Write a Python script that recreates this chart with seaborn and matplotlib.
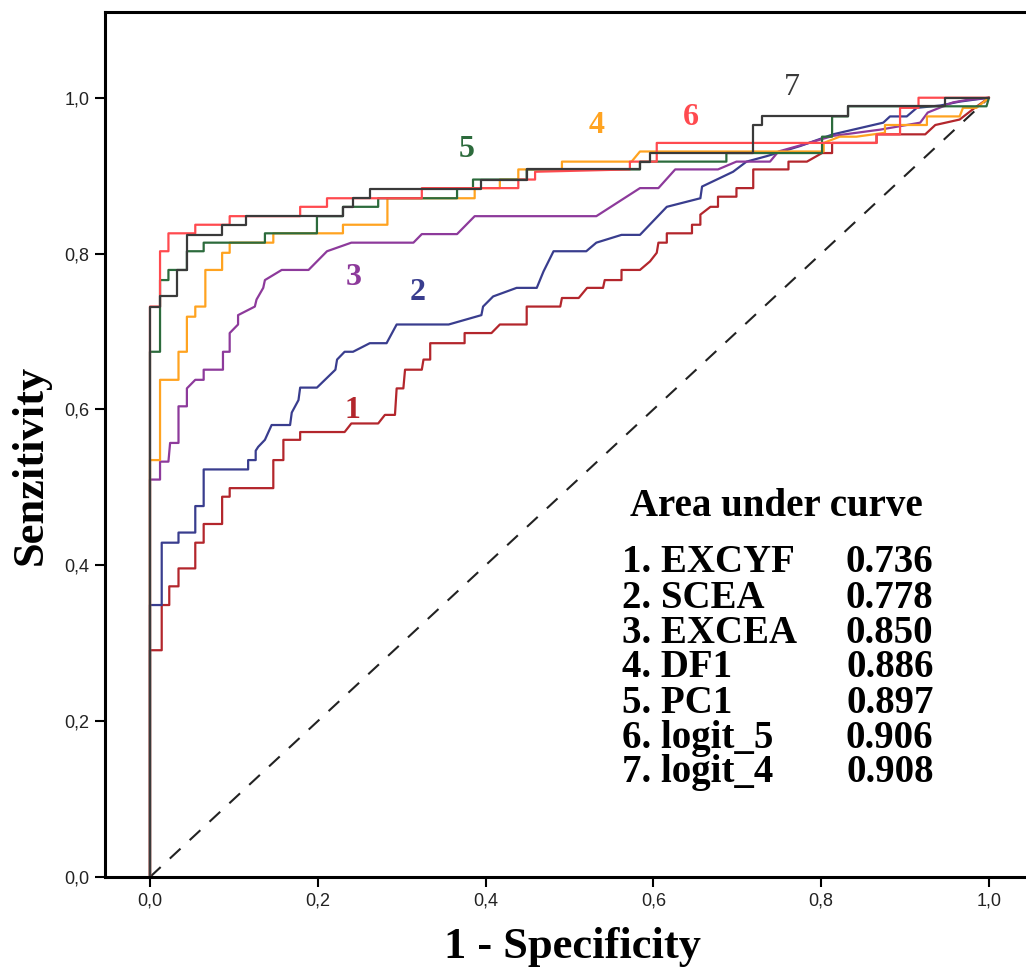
# -*- coding: utf-8 -*-
import numpy as np
import pandas as pd
import matplotlib
matplotlib.use("Agg")
import matplotlib.pyplot as plt
import seaborn as sns

# ROC vertices (1 - specificity, sensitivity)
roc_excyf = [(0, 0), (0, 0.291), (0.014, 0.291), (0.014, 0.349), (0.023, 0.349), (0.023, 0.373),
             (0.034, 0.373), (0.034, 0.396), (0.054, 0.396), (0.054, 0.429), (0.064, 0.429),
             (0.064, 0.453), (0.086, 0.453), (0.086, 0.488), (0.095, 0.488), (0.095, 0.499),
             (0.147, 0.499), (0.147, 0.535), (0.159, 0.535), (0.159, 0.561), (0.179, 0.561),
             (0.179, 0.571), (0.232, 0.571), (0.240, 0.582), (0.272, 0.582), (0.280, 0.593),
             (0.292, 0.593), (0.294, 0.627), (0.302, 0.627), (0.304, 0.651), (0.324, 0.651),
             (0.326, 0.664), (0.334, 0.664), (0.334, 0.685), (0.375, 0.685), (0.375, 0.698),
             (0.407, 0.698), (0.417, 0.709), (0.449, 0.709), (0.449, 0.732), (0.489, 0.732),
             (0.491, 0.743), (0.511, 0.743), (0.521, 0.756), (0.540, 0.756), (0.542, 0.766),
             (0.562, 0.766), (0.562, 0.779), (0.584, 0.779), (0.596, 0.790), (0.604, 0.801),
             (0.606, 0.814), (0.616, 0.814), (0.616, 0.826), (0.646, 0.826), (0.646, 0.837),
             (0.656, 0.837), (0.656, 0.850), (0.668, 0.860), (0.677, 0.860), (0.677, 0.873),
             (0.699, 0.873), (0.699, 0.884), (0.719, 0.884), (0.719, 0.908), (0.761, 0.908),
             (0.761, 0.918), (0.783, 0.918), (0.801, 0.929), (0.813, 0.929), (0.813, 0.942),
             (0.866, 0.942), (0.866, 0.953), (0.924, 0.953), (0.936, 0.965), (0.965, 0.972),
             (0.983, 0.987), (1, 1)]
roc_scea = [(0, 0), (0, 0.349), (0.014, 0.349), (0.014, 0.429), (0.034, 0.429), (0.034, 0.442),
            (0.054, 0.442), (0.054, 0.476), (0.064, 0.476), (0.064, 0.523), (0.117, 0.523),
            (0.117, 0.535), (0.126, 0.535), (0.126, 0.547), (0.129, 0.552), (0.137, 0.561),
            (0.145, 0.580), (0.167, 0.580), (0.169, 0.596), (0.177, 0.612), (0.179, 0.628),
            (0.199, 0.628), (0.221, 0.651), (0.223, 0.664), (0.232, 0.674), (0.242, 0.674),
            (0.262, 0.685), (0.282, 0.685), (0.294, 0.709), (0.356, 0.709), (0.395, 0.721),
            (0.397, 0.732), (0.409, 0.745), (0.437, 0.756), (0.461, 0.756), (0.469, 0.777),
            (0.481, 0.803), (0.520, 0.803), (0.532, 0.814), (0.562, 0.824), (0.584, 0.824),
            (0.616, 0.860), (0.656, 0.871), (0.658, 0.886), (0.695, 0.905), (0.711, 0.918),
            (0.735, 0.925), (0.775, 0.938), (0.814, 0.953), (0.874, 0.968), (0.882, 0.976),
            (0.902, 0.976), (0.914, 0.987), (0.942, 0.990), (0.965, 0.995), (1, 1)]
roc_excea = [(0, 0), (0, 0.510), (0.012, 0.510), (0.012, 0.533), (0.022, 0.533), (0.024, 0.557),
             (0.034, 0.557), (0.034, 0.604), (0.044, 0.604), (0.044, 0.627), (0.054, 0.638),
             (0.064, 0.638), (0.064, 0.651), (0.087, 0.651), (0.087, 0.674), (0.095, 0.674),
             (0.095, 0.698), (0.105, 0.709), (0.105, 0.721), (0.125, 0.732), (0.127, 0.741),
             (0.135, 0.756), (0.137, 0.766), (0.157, 0.779), (0.189, 0.779), (0.211, 0.803),
             (0.240, 0.814), (0.314, 0.814), (0.324, 0.825), (0.366, 0.825), (0.387, 0.848),
             (0.532, 0.848), (0.584, 0.884), (0.606, 0.884), (0.626, 0.908), (0.677, 0.908),
             (0.699, 0.918), (0.739, 0.918), (0.749, 0.931), (0.779, 0.940), (0.814, 0.951),
             (0.870, 0.959), (0.918, 0.968), (0.927, 0.981), (0.957, 0.994), (0.973, 0.997), (1, 1)]
roc_df1 = [(0, 0), (0, 0.535), (0.012, 0.535), (0.012, 0.638), (0.034, 0.638), (0.034, 0.674),
           (0.044, 0.674), (0.044, 0.719), (0.054, 0.719), (0.054, 0.732), (0.066, 0.732),
           (0.066, 0.779), (0.086, 0.779), (0.086, 0.801), (0.095, 0.801), (0.095, 0.814),
           (0.147, 0.814), (0.147, 0.826), (0.230, 0.826), (0.230, 0.837), (0.283, 0.837),
           (0.283, 0.871), (0.387, 0.871), (0.387, 0.884), (0.417, 0.884), (0.417, 0.895),
           (0.439, 0.895), (0.439, 0.908), (0.491, 0.908), (0.491, 0.918), (0.574, 0.918),
           (0.584, 0.931), (0.803, 0.931), (0.803, 0.942), (0.822, 0.950), (0.842, 0.950),
           (0.876, 0.955), (0.876, 0.965), (0.926, 0.965), (0.926, 0.976), (0.965, 0.976),
           (0.969, 0.987), (0.985, 0.987), (1, 1)]
roc_pc1 = [(0, 0), (0, 0.674), (0.012, 0.674), (0.012, 0.766), (0.022, 0.766), (0.022, 0.779),
           (0.044, 0.779), (0.044, 0.803), (0.064, 0.803), (0.064, 0.814), (0.137, 0.814),
           (0.137, 0.826), (0.199, 0.826), (0.199, 0.848), (0.230, 0.848), (0.230, 0.860),
           (0.272, 0.860), (0.272, 0.871), (0.366, 0.871), (0.366, 0.884), (0.385, 0.884),
           (0.385, 0.895), (0.449, 0.895), (0.449, 0.908), (0.584, 0.908), (0.584, 0.918),
           (0.687, 0.918), (0.687, 0.929), (0.801, 0.929), (0.801, 0.950), (0.813, 0.950),
           (0.813, 0.976), (0.832, 0.976), (0.832, 0.989), (0.997, 0.989), (1, 1)]
roc_logit5 = [(0, 0), (0, 0.732), (0.012, 0.732), (0.012, 0.803), (0.022, 0.803), (0.022, 0.826),
              (0.054, 0.826), (0.054, 0.837), (0.095, 0.837), (0.095, 0.848), (0.179, 0.848),
              (0.179, 0.860), (0.211, 0.860), (0.211, 0.871), (0.324, 0.871), (0.324, 0.884),
              (0.439, 0.884), (0.439, 0.895), (0.459, 0.895), (0.459, 0.905), (0.572, 0.908),
              (0.572, 0.918), (0.604, 0.918), (0.604, 0.942), (0.866, 0.942), (0.866, 0.953),
              (0.894, 0.953), (0.894, 0.987), (0.916, 0.987), (0.916, 1.0), (1, 1)]
roc_logit4 = [(0, 0), (0, 0.732), (0.012, 0.732), (0.012, 0.745), (0.032, 0.745), (0.032, 0.779),
              (0.044, 0.779), (0.044, 0.824), (0.086, 0.824), (0.086, 0.837), (0.115, 0.837),
              (0.115, 0.848), (0.230, 0.848), (0.230, 0.860), (0.242, 0.860), (0.242, 0.871),
              (0.262, 0.871), (0.262, 0.883), (0.395, 0.883), (0.395, 0.895), (0.449, 0.895),
              (0.449, 0.908), (0.584, 0.908), (0.584, 0.918), (0.596, 0.918), (0.596, 0.929),
              (0.719, 0.929), (0.719, 0.965), (0.729, 0.965), (0.729, 0.976), (0.832, 0.976),
              (0.832, 0.989), (0.948, 0.989), (0.948, 1.0), (1, 1)]

models = ['EXCYF', 'SCEA', 'EXCEA', 'DF1', 'PC1', 'logit_5', 'logit_4']
aucs = ['0.736', '0.778', '0.850', '0.886', '0.897', '0.906', '0.908']
colors = ['#b3262c', '#393d8e', '#8d3a9b', '#ffa320', '#2c6b3c', '#ff4a4f', '#3a3a3a']
curve_label_pos = [(0.241, 0.599), (0.319, 0.750), (0.243, 0.769), (0.532, 0.964),
                   (0.377, 0.933), (0.645, 0.974), (0.765, 1.013)]
x_ticks = [0.0, 0.2, 0.4, 0.6, 0.8, 1.0]
y_ticks = [0.0, 0.2, 0.4, 0.6, 0.8, 1.0]

rocs = [roc_excyf, roc_scea, roc_excea, roc_df1, roc_pc1, roc_logit5, roc_logit4]
rows = []
for name, roc in zip(models, rocs):
    for fpr, tpr in roc:
        rows.append({'model': name, 'fpr': fpr, 'tpr': tpr})
df = pd.DataFrame(rows)

sns.set_theme(style='white')
plt.rcParams['font.family'] = ['Liberation Serif', 'DejaVu Serif']

fig = plt.figure(figsize=(10.26, 9.73), dpi=100)
# axes run past the right edge of the image, as in the original
ax = fig.add_axes([105 / 1026, 1 - 877 / 973, (1045 - 105) / 1026, (877 - 12) / 973])

sns.lineplot(x=[0, 1], y=[0, 1], color='#222222', lw=1.5, linestyle=(0, (7, 6)), ax=ax)
sns.lineplot(data=df, x='fpr', y='tpr', hue='model', hue_order=models,
             palette=colors, sort=False, estimator=None, lw=1.6, legend=False, ax=ax)

ax.set_xlim(-0.0536, (1045 - 150) / 839)
ax.set_ylim(0, 1.110)

tick_font = {'family': ['Liberation Sans Narrow', 'Liberation Sans', 'DejaVu Sans'], 'size': 13}
ax.set_xticks(x_ticks)
ax.set_yticks(y_ticks)
ax.set_xticklabels([f'{t:.1f}'.replace('.', ',') for t in x_ticks], fontdict=tick_font)
ax.set_yticklabels([f'{t:.1f}'.replace('.', ',') for t in y_ticks], fontdict=tick_font)
ax.tick_params(direction='out', length=7, width=1.5, color='black', pad=4,
               bottom=True, left=True, labelcolor='#222222')

for side in ['left', 'top', 'bottom']:
    ax.spines[side].set_color('black')
    ax.spines[side].set_linewidth(2.2)
ax.spines['right'].set_visible(False)

ax.set_xlabel('1 - Specificity', fontsize=32, fontweight='bold', color='black')
ax.set_ylabel('Senzitivity', fontsize=32, fontweight='bold', color='black')
ax.xaxis.set_label_coords(0.497, -0.058)
ax.yaxis.set_label_coords(-0.058, 0.476)

# curve numbers
for i, (pos, c) in enumerate(zip(curve_label_pos, colors)):
    ax.text(pos[0], pos[1], str(i + 1), color=c, fontsize=23,
            fontweight='normal' if i == 6 else 'bold', ha='center', va='center')

# AUC table
ax.text(0.747, 0.475, 'Area under curve', fontsize=28, fontweight='bold',
        ha='center', va='center', color='black')
row_y = [0.403, 0.358, 0.313, 0.269, 0.223, 0.178, 0.134]
for i, (name, auc) in enumerate(zip(models, aucs)):
    ax.text(0.562, row_y[i], f'{i + 1}. {name}', fontsize=28, fontweight='bold',
            ha='left', va='center', color='black')
    ax.text(0.934, row_y[i], auc, fontsize=28, fontweight='bold',
            ha='right', va='center', color='black')

fig.savefig('out.png', dpi=100)
